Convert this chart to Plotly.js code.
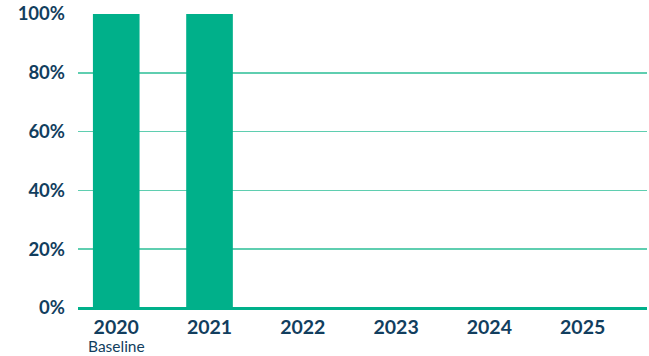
<!DOCTYPE html>
<html><head><meta charset="utf-8">
<script src="https://cdn.plot.ly/plotly-3.0.1.min.js"></script>
<style>html,body{margin:0;padding:0;background:#fff;}#chart{width:649px;height:356px;}</style>
</head><body><div id="chart"></div>
<script>
var years = ['2020', '2021', '2022', '2023', '2024', '2025'];
var values = [100, 100, 0, 0, 0, 0];
var yTicks = [0, 20, 40, 60, 80, 100];
var yTickLabels = ['0%', '20%', '40%', '60%', '80%', '100%'];
var baselineLabel = 'Baseline';

var trace = {
  type: 'bar', x: years, y: values, width: 0.5,
  marker: {color: '#00b08a'}, hoverinfo: 'none'
};
var layout = {
  width: 649, height: 356,
  margin: {l: 78, r: 2, t: 14, b: 48},
  paper_bgcolor: '#fff', plot_bgcolor: '#fff',
  showlegend: false,
  font: {family: 'Lato, "Open Sans", sans-serif', color: '#123e5e'},
  xaxis: {
    type: 'category', range: [-0.41, 5.69],
    showgrid: false, zeroline: false, showline: false,
    ticks: '', ticklen: 0, ticklabelstandoff: 5,
    tickfont: {size: 19.5, weight: 'bold', color: '#123e5e'}
  },
  yaxis: {
    range: [0, 100], tickvals: yTicks, ticktext: yTickLabels,
    showgrid: true, gridcolor: '#5fceb0', gridwidth: 1.5,
    zeroline: true, zerolinecolor: '#00b08a', zerolinewidth: 3,
    showline: false, ticks: '', ticklabelstandoff: 12,
    tickfont: {size: 18.5, weight: 'bold', color: '#123e5e'}
  },
  annotations: [{
    x: 0, y: 0, xref: 'x', yref: 'paper', yanchor: 'middle', yshift: -38,
    text: baselineLabel, showarrow: false,
    font: {size: 15.5, color: '#123e5e', family: 'Lato, "Open Sans", sans-serif'}
  }]
};
Plotly.newPlot('chart', [trace], layout, {displayModeBar: false, staticPlot: true});
</script></body></html>
